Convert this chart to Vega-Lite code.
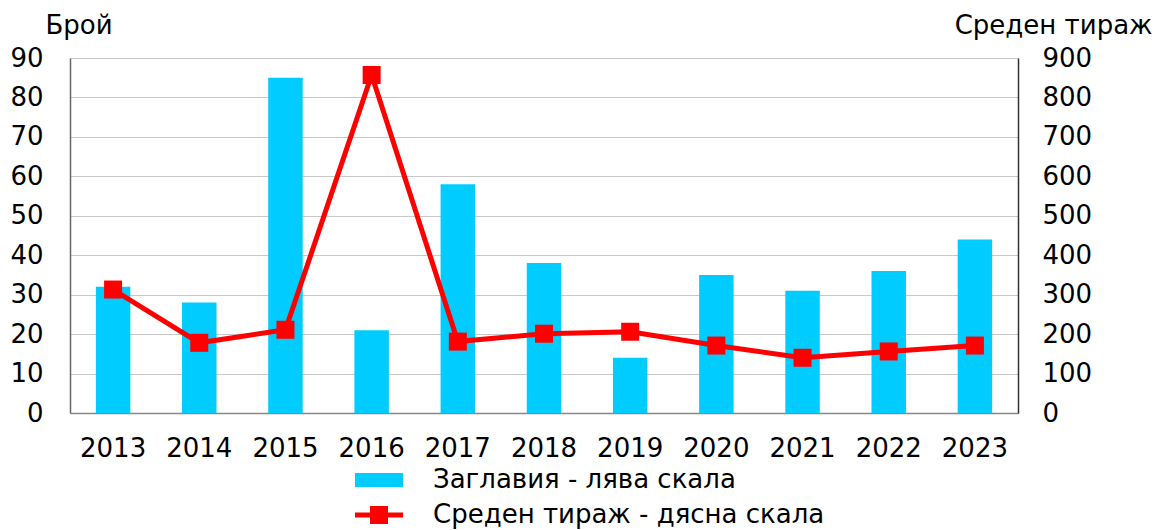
{
  "$schema": "https://vega.github.io/schema/vega-lite/v6.json",
  "width": 948,
  "height": 355,
  "autosize": {"type": "none"},
  "padding": {"left": 70, "top": 58, "right": 145, "bottom": 117},
  "config": {
    "font": "DejaVu Sans",
    "view": {"stroke": null},
    "axis": {
      "labelFont": "DejaVu Sans",
      "titleFont": "DejaVu Sans",
      "labelFontSize": 26,
      "titleFontSize": 26,
      "titleFontWeight": "normal",
      "labelColor": "#000000",
      "titleColor": "#000000",
      "ticks": false
    }
  },
  "data": {
    "values": [
      {"year": "2013", "titles": 32, "avg": 313},
      {"year": "2014", "titles": 28, "avg": 178},
      {"year": "2015", "titles": 85, "avg": 211},
      {"year": "2016", "titles": 21, "avg": 857},
      {"year": "2017", "titles": 58, "avg": 181},
      {"year": "2018", "titles": 38, "avg": 201},
      {"year": "2019", "titles": 14, "avg": 206},
      {"year": "2020", "titles": 35, "avg": 171},
      {"year": "2021", "titles": 31, "avg": 140},
      {"year": "2022", "titles": 36, "avg": 156},
      {"year": "2023", "titles": 44, "avg": 171}
    ]
  },
  "encoding": {
    "x": {
      "field": "year",
      "type": "ordinal",
      "scale": {"type": "band", "paddingInner": 0.6, "paddingOuter": 0.3},
      "axis": {"title": null, "labelAngle": 0, "labelPadding": 22, "domainColor": "#888888", "domainWidth": 1.5, "grid": false}
    }
  },
  "layer": [
    {
      "mark": {"type": "bar", "color": "#00CCFF"},
      "encoding": {
        "y": {
          "field": "titles",
          "type": "quantitative",
          "scale": {"domain": [0, 90]},
          "axis": {
            "values": [0, 10, 20, 30, 40, 50, 60, 70, 80, 90],
            "title": "Брой",
            "titleAngle": 0,
            "titleX": -25,
            "titleY": -25,
            "titleAlign": "left",
            "titleBaseline": "alphabetic",
            "labelPadding": 27,
            "domainColor": "#666666",
            "domainWidth": 1.5,
            "grid": true,
            "gridColor": "#C8C8C8",
            "gridWidth": 1
          }
        },
        "color": {
          "datum": "Заглавия - лява скала",
          "type": "nominal",
          "scale": {
            "domain": ["Заглавия - лява скала", "Среден тираж - дясна скала"],
            "range": ["#00CCFF", "#FF0000"]
          },
          "legend": {
            "orient": "none",
            "legendX": 296,
            "legendY": 409,
            "direction": "vertical",
            "title": null,
            "labelFont": "DejaVu Sans",
            "labelFontSize": 26,
            "labelColor": "#000000",
            "labelLimit": 600,
            "symbolSize": 400,
            "labelOffset": 41,
            "rowPadding": 9,
            "padding": 0,
            "encode": {
              "symbols": {
                "update": {
                  "shape": {"signal": "datum.value === 'Заглавия - лява скала' ? 'M-2.4,-0.7H2.4V0.7H-2.4Z' : 'M-2.4,-0.25H2.4V0.25H-2.4Z M-0.9,-0.9H0.9V0.9H-0.9Z'"},
                  "fill": {"scale": "color", "field": "value"},
                  "stroke": {"value": "transparent"},
                  "strokeWidth": {"value": 0},
                  "opacity": {"value": 1},
                  "fillOpacity": {"value": 1}
                }
              }
            }
          }
        }
      }
    },
    {
      "mark": {
        "type": "line",
        "color": "#FF0000",
        "strokeWidth": 5,
        "point": {"shape": "square", "size": 324, "filled": true, "color": "#FF0000", "opacity": 1}
      },
      "encoding": {
        "y": {
          "field": "avg",
          "type": "quantitative",
          "scale": {"domain": [0, 900]},
          "axis": {
            "orient": "right",
            "values": [0, 100, 200, 300, 400, 500, 600, 700, 800, 900],
            "title": "Среден тираж",
            "titleAngle": 0,
            "titleX": 134,
            "titleY": -25,
            "titleAlign": "right",
            "titleBaseline": "alphabetic",
            "labelPadding": 24,
            "domainColor": "#333333",
            "domainWidth": 1.5,
            "grid": false
          }
        },
        "color": {"datum": "Среден тираж - дясна скала", "type": "nominal"}
      }
    }
  ],
  "resolve": {"scale": {"y": "independent"}}
}
